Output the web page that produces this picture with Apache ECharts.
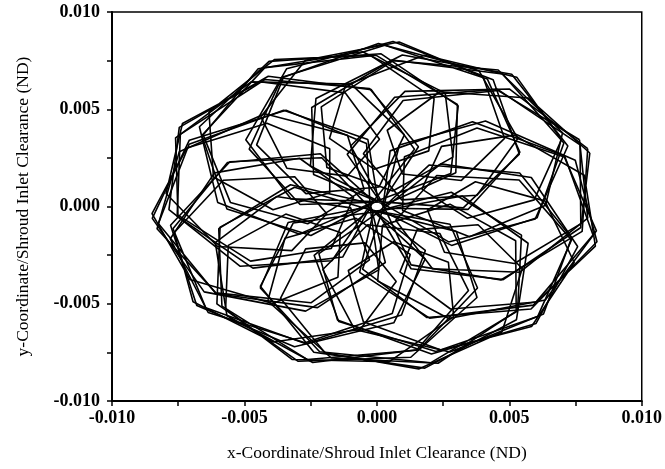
<!DOCTYPE html>
<html>
<head>
<meta charset="utf-8">
<script src="https://cdn.jsdelivr.net/npm/echarts@6/dist/echarts.min.js"></script>
<style>
  html, body { margin: 0; padding: 0; background: #fff; }
  #chart { width: 665px; height: 469px; }
</style>
</head>
<body>
<div id="chart"></div>
<script>
// orbit samples (x, y in clearance units), one array per pass
const orbitPass1 = [
  [0.00796,0.00297],[0.00501,0.00604],[0.00106,0.00592],[-0.00099,0.00311],[0.00018,0.00024],[0.00326,-0.00007],
  [0.00538,0.00269],[0.00439,0.00652],[0.00061,0.00848],[-0.00341,0.00708],[-0.00495,0.00343],[-0.00324,0.00039],
  [-0.00014,0.00026],[0.00142,0.00294],[-0.00021,0.00601],[-0.0041,0.0067],[-0.00746,0.00407],[-0.00785,-0.00016],
  [-0.00517,-0.00307],[-0.0017,-0.00279],[-0.0003,-0.00002],[-0.00208,0.00251],[-0.00555,0.0023],[-0.00779,-0.00096],
  [-0.0068,-0.00509],[-0.00311,-0.00721],[0.00064,-0.00598],[0.00182,-0.00271],[-0.00011,-0.00028],[-0.00316,-0.00085],
  [-0.0044,-0.0041],[-0.00238,-0.00749],[0.00181,-0.00831],[0.00527,-0.00582],[0.00571,-0.00189],[0.00322,0.00054],
  [0.00021,-0.00021],[-0.00054,-0.00322],[0.00189,-0.00571],[0.00582,-0.00527],[0.00831,-0.00181],[0.00749,0.00238],
  [0.0041,0.0044],[0.00085,0.00316],[0.00028,0.00011],[0.00271,-0.00182],[0.00598,-0.00064],[0.00721,0.00311],
  [0.00509,0.0068],[0.00096,0.00779],[-0.0023,0.00555],[-0.00251,0.00208],[0.00002,0.0003],[0.00279,0.0017],
  [0.00307,0.00517],[0.00016,0.00785],[-0.00407,0.00746],[-0.0067,0.0041],[-0.00601,0.00021],[-0.00294,-0.00142],
  [-0.00026,0.00014],[-0.00039,0.00324],[-0.00343,0.00495],[-0.00708,0.00341],[-0.00848,-0.00061],[-0.00652,-0.00439],
  [-0.00269,-0.00538],[0.00007,-0.00326],[-0.00024,-0.00018],[-0.00311,0.00099],[-0.00592,-0.00106],[-0.00604,-0.00501],
  [-0.00297,-0.00796],[0.00128,-0.00775],[0.00378,-0.00468],[0.003,-0.00129],[0.00007,-0.00029],[-0.00219,-0.00242],
  [-0.00149,-0.00583],[0.00206,-0.00758],[0.00601,-0.00601],[0.00758,-0.00206],[0.00583,0.00149],[0.00242,0.00219],
  [0.00029,-0.00007],[0.00129,-0.003],[0.00468,-0.00378],[0.00775,-0.00128],[0.00796,0.00297]
];
const orbitPass2 = [
  [0.00767,0.00317],[0.00456,0.00602],[0.00067,0.00562],[-0.00112,0.00268],[0.0003,-0.00009],[0.00344,-0.00015],
  [0.0054,0.00279],[0.00417,0.00656],[0.0003,0.00829],[-0.00358,0.00665],[-0.00482,0.00295],[-0.0029,0.0001],
  [0.00021,0.00024],[0.00157,0.00307],[-0.00028,0.00607],[-0.00423,0.00653],[-0.00742,0.00371],[-0.00754,-0.0005],
  [-0.00468,-0.00317],[-0.00129,-0.0026],[-0.00013,0.00028],[-0.00213,0.00271],[-0.00564,0.00226],[-0.0077,-0.00114],
  [-0.00646,-0.00521],[-0.00268,-0.00706],[0.00093,-0.00558],[0.00183,-0.00226],[-0.00032,-0.00001],[-0.00335,-0.00082],
  [-0.0044,-0.00419],[-0.00216,-0.00747],[0.00204,-0.00803],[0.00531,-0.00537],[0.00546,-0.00147],[0.00281,0.00073],
  [-0.00013,-0.00028],[-0.00065,-0.00339],[0.00199,-0.00574],[0.00591,-0.00507],[0.00816,-0.00147],[0.00709,0.0026],
  [0.00361,0.00436],[0.0005,0.00286],[0.00021,-0.00023],[0.00282,-0.002],[0.00605,-0.00058],[0.00706,0.00326],
  [0.00474,0.00681],[0.00058,0.00753],[-0.00246,0.00509],[-0.00239,0.00164],[0.0003,0.00009],[0.00298,0.00173],
  [0.00304,0.00525],[-0.00004,0.00778],[-0.00423,0.00714],[-0.00661,0.00365],[-0.00566,-0.00013],[-0.00249,-0.00149],
  [0.00004,0.00031],[-0.00034,0.00344],[-0.00352,0.00495],[-0.00709,0.0032],[-0.00825,-0.00088],[-0.00607,-0.00449],
  [-0.00224,-0.0052],[0.00032,-0.00288],[-0.00026,0.00017],[-0.00326,0.00112],[-0.00597,-0.00114],[-0.00585,-0.00512],
  [-0.00262,-0.00787],[0.00157,-0.00738],[0.0038,-0.00419],[0.00276,-0.00091],[-0.00026,-0.00017],[-0.00237,-0.00251],
  [-0.00144,-0.00591],[0.00223,-0.00745],[0.00607,-0.00566],[0.00737,-0.00165],[0.00539,0.00172],[0.00197,0.00213],
  [0.00004,-0.00031],[0.00129,-0.0032],[0.00477,-0.00376],[0.0077,-0.00108],[0.00767,0.00317]
];
const orbitPass3 = [
  [0.00804,0.00275],[0.00571,0.00558],[0.00238,0.0059],[0.00039,0.00392],[0.00096,0.00167],[0.00319,0.00134],
  [0.00482,0.0035],[0.00401,0.00666],[0.00084,0.00846],[-0.0027,0.00752],[-0.00438,0.00461],[-0.0034,0.00197],
  [-0.00112,0.00156],[0.0001,0.00346],[-0.00119,0.00584],[-0.0044,0.00641],[-0.00734,0.00427],[-0.00796,0.00067],
  [-0.00601,-0.00206],[-0.00321,-0.00227],[-0.00189,-0.00037],[-0.0031,0.00153],[-0.0058,0.00135],[-0.00765,-0.00134],
  [-0.00694,-0.0049],[-0.00392,-0.00697],[-0.00063,-0.00632],[0.00073,-0.00386],[-0.00045,-0.00187],[-0.00269,-0.00218],
  [-0.00364,-0.00472],[-0.00196,-0.00752],[0.00158,-0.00835],[0.00472,-0.00645],[0.00549,-0.00319],[0.00382,-0.00094],
  [0.00152,-0.00119],[0.00087,-0.00336],[0.00278,-0.00527],[0.00602,-0.00491],[0.00825,-0.00204],[0.00783,0.00161],
  [0.00519,0.00367],[0.00244,0.00309],[0.0017,0.00089],[0.00341,-0.0006],[0.00594,0.00034],[0.00697,0.00344],
  [0.00528,0.00665],[0.00179,0.00778],[-0.00118,0.00624],[-0.00179,0.0035],[-0.0001,0.00192],[0.00196,0.00286],
  [0.00216,0.00555],[-0.00024,0.00777],[-0.00386,0.00756],[-0.00634,0.00486],[-0.00617,0.00152],[-0.00392,-0.00017],
  [-0.00178,0.00071],[-0.00178,0.00297],[-0.00415,0.00428],[-0.00717,0.00301],[-0.00849,-0.00037],[-0.00706,-0.00375],
  [-0.00394,-0.00499],[-0.00147,-0.00364],[-0.00138,-0.00134],[-0.00344,-0.00039],[-0.00561,-0.002],[-0.00571,-0.00526],
  [-0.00319,-0.00787],[0.00047,-0.00798],[0.0029,-0.00566],[0.0027,-0.00286],[0.00064,-0.00181],[-0.00108,-0.00329],
  [-0.00051,-0.00593],[0.00242,-0.00738],[0.00584,-0.00617],[0.00745,-0.00288],[0.00634,0.00029],[0.00372,0.00127],
  [0.00191,-0.00018],[0.00255,-0.00235],[0.00519,-0.00293],[0.00772,-0.00087],[0.00804,0.00275]
];
const orbitPass4 = [
  [0.00765,0.00343],[0.00458,0.00596],[0.00099,0.00545],[-0.00051,0.00271],[0.00094,0.00034],[0.00378,0.00058],
  [0.00532,0.0035],[0.00385,0.00699],[0.00006,0.00838],[-0.00353,0.00664],[-0.00454,0.00317],[-0.00268,0.00066],
  [0.00008,0.001],[0.00104,0.00368],[-0.00097,0.00629],[-0.00475,0.00641],[-0.0076,0.00353],[-0.00751,-0.00044],
  [-0.00477,-0.00281],[-0.00172,-0.00216],[-0.00088,0.00048],[-0.00292,0.00248],[-0.00613,0.00173],[-0.0078,-0.00166],
  [-0.00637,-0.00545],[-0.00271,-0.00701],[0.00058,-0.0055],[0.00126,-0.00246],[-0.0008,-0.0006],[-0.00347,-0.00163],
  [-0.00412,-0.00486],[-0.00172,-0.00779],[0.00231,-0.00806],[0.00526,-0.00538],[0.00524,-0.00176],[0.00276,0.00012],
  [0.00021,-0.00097],[0.00003,-0.00383],[0.00271,-0.00576],[0.00636,-0.00481],[0.00829,-0.00125],[0.00708,0.00254],
  [0.00378,0.00404],[0.00104,0.00256],[0.00097,-0.00021],[0.0035,-0.00156],[0.00637,0.00007],[0.00701,0.00379],
  [0.00458,0.00702],[0.00062,0.0075],[-0.0021,0.00512],[-0.00189,0.00201],[0.0006,0.0008],[0.00287,0.00254],
  [0.00258,0.00583],[-0.00054,0.00796],[-0.00448,0.00708],[-0.00656,0.00368],[-0.00553,0.00021],[-0.00261,-0.00089],
  [-0.00048,0.00087],[-0.00111,0.00366],[-0.00423,0.00477],[-0.00746,0.00282],[-0.0083,-0.00114],[-0.00608,-0.00444],
  [-0.00249,-0.00495],[-0.00028,-0.00274],[-0.00099,-0.00007],[-0.00379,0.00051],[-0.0061,-0.00186],[-0.00566,-0.00562],
  [-0.00242,-0.00802],[0.00151,-0.00737],[0.00346,-0.00432],[0.00238,-0.00139],[-0.00035,-0.00094],[-0.00204,-0.00324],
  [-0.00084,-0.00632],[0.00276,-0.00748],[0.00629,-0.00553],[0.00733,-0.00169],[0.00537,0.00136],[0.00226,0.00159],
  [0.00071,-0.00071],[0.0021,-0.0032],[0.0054,-0.00338],[0.00796,-0.0006],[0.00765,0.00343]
];
const xTicks = [-0.010, -0.005, 0.000, 0.005, 0.010];
const yTicks = [-0.010, -0.005, 0.000, 0.005, 0.010];

const chart = echarts.init(document.getElementById('chart'), null, { renderer: 'canvas' });

const labelFont = { color: '#000', fontFamily: 'Liberation Serif', fontSize: 18, fontWeight: 'bold' };
const nameFont = { color: '#000', fontFamily: 'Liberation Serif', fontSize: 17.5 };

const axisCommon = (ticks) => ({
  type: 'value',
  min: ticks[0],
  max: ticks[ticks.length - 1],
  interval: ticks[1] - ticks[0],
  axisLine: { show: true, onZero: false, lineStyle: { color: '#000', width: 2 } },
  axisTick: { show: true, length: 5, lineStyle: { color: '#000', width: 1.5 } },
  minorTick: { show: true, splitNumber: 2, length: 5, lineStyle: { color: '#000', width: 1.5 } },
  splitLine: { show: false }
});

const passes = [orbitPass1, orbitPass2, orbitPass3, orbitPass4];

chart.setOption({
  animation: false,
  backgroundColor: '#fff',
  grid: {
    left: 112, right: 20, top: 12, bottom: 68,
    show: true, borderColor: '#000', borderWidth: 1.5, backgroundColor: 'transparent'
  },
  xAxis: Object.assign(axisCommon(xTicks), {
    name: 'x-Coordinate/Shroud Inlet Clearance (ND)',
    nameLocation: 'middle', nameGap: 43, nameTextStyle: nameFont,
    axisLabel: Object.assign({ formatter: (v) => v.toFixed(3), margin: 8 }, labelFont)
  }),
  yAxis: Object.assign(axisCommon(yTicks), {
    name: 'y-Coordinate/Shroud Inlet Clearance (ND)',
    nameLocation: 'middle', nameGap: 80, nameTextStyle: nameFont,
    axisLabel: Object.assign({ formatter: (v) => v.toFixed(3), margin: 12 }, labelFont)
  }),
  series: passes.map((p) => ({
    type: 'line', data: p, showSymbol: false, smooth: false,
    lineStyle: { color: '#000', width: 1.6 }
  }))
});
</script>
</body>
</html>
